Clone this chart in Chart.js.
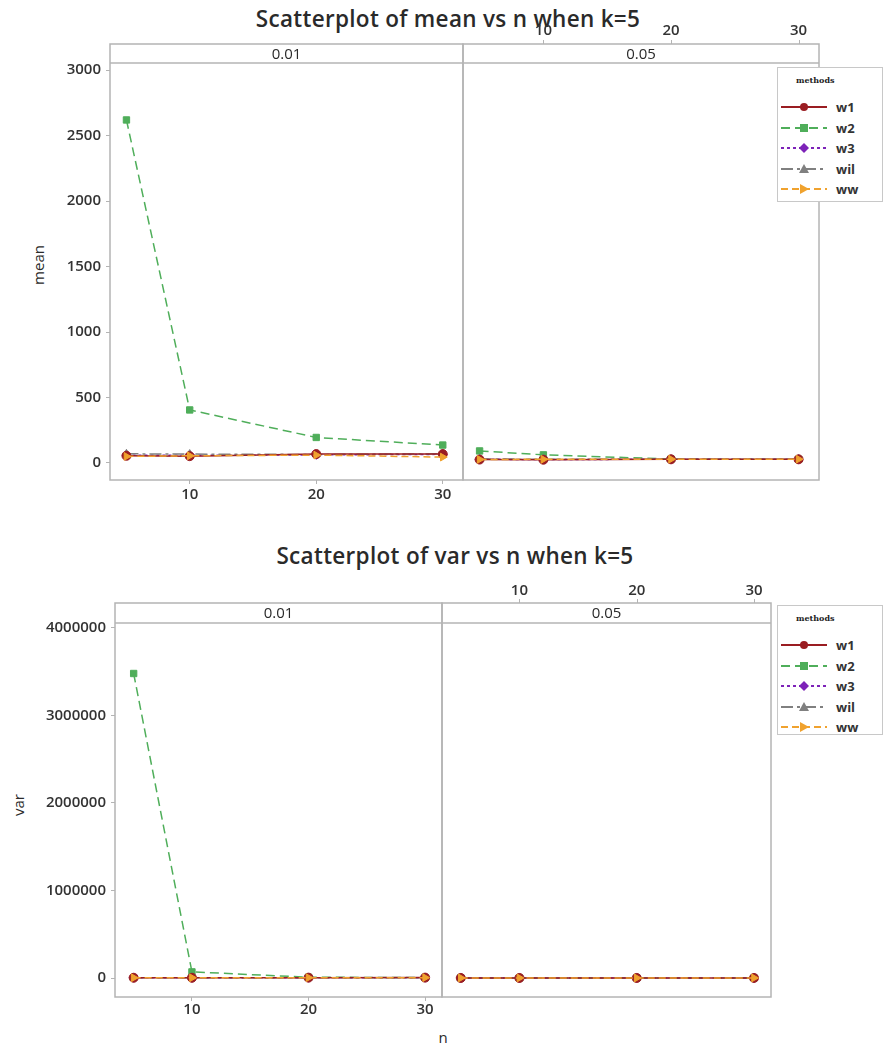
<!DOCTYPE html>
<html>
<head>
<meta charset="utf-8">
<script src="https://cdn.jsdelivr.net/npm/chart.js@4.4.1/dist/chart.umd.min.js"></script>
<style>
  body { margin: 0; background: #fff; width: 889px; height: 1047px; position: relative; overflow: hidden; font-family: "Open Sans", sans-serif; }
  canvas, .txt, .legend { position: absolute; }
  .title { font-weight: 600; font-size: 22.5px; letter-spacing: 0.3px; color: #2a2a2a; white-space: nowrap; transform: translateX(-50%); }
  .axtitle { font-size: 15px; color: #2a2a2a; white-space: nowrap; }
  .legend { border: 1px solid #c8c8c8; background: #fff; width: 106px; box-sizing: border-box; padding: 7px 0 0 2px; }
  .legend .lt { font-family: "DejaVu Serif", serif; font-weight: 700; font-size: 8px; color: #222; margin: 0 0 8px 16px; height: 14px; }
  .legend .row { height: 20.5px; display: flex; align-items: center; }
  .legend .row span { font-weight: 700; font-size: 13px; color: #333; margin-left: 8px; }
</style>
</head>
<body>
<div class="txt title" style="left:448px; top:3px;">Scatterplot of mean vs n when k=5</div>
<div class="txt axtitle" style="left:38px; top:265px; transform:translate(-50%,-50%) rotate(-90deg);">mean</div>
<canvas id="meanLeft" width="464" height="470" style="left:0; top:40px;"></canvas>
<canvas id="meanRight" width="358" height="480" style="left:462px; top:10px;"></canvas>
<div class="legend" id="legendTop" style="left:777px; top:67px; height:135px;"></div>

<div class="txt title" style="left:455px; top:540px;">Scatterplot of var vs n when k=5</div>
<div class="txt axtitle" style="left:18px; top:805px; transform:translate(-50%,-50%) rotate(-90deg);">var</div>
<div class="txt axtitle" style="left:443px; top:1037px; transform:translate(-50%,-50%);">n</div>
<canvas id="varLeft" width="443" height="447" style="left:0; top:580px;"></canvas>
<canvas id="varRight" width="331" height="447" style="left:441px; top:560px;"></canvas>
<div class="legend" id="legendBottom" style="left:777px; top:605px; height:130px;"></div>

<script>
// data
const nValues = [5, 10, 20, 30];
const methods = ["w1", "w2", "w3", "wil", "ww"];
const nTicks = [10, 20, 30];
const meanTicks = [0, 500, 1000, 1500, 2000, 2500, 3000];
const varTicks = [0, 1000000, 2000000, 3000000, 4000000];

// rows follow methods order: w1, w2, w3, wil, ww
const mean001 = [
  [55, 52, 68, 68],
  [2620, 405, 195, 137],
  [60, 58, 62, 66],
  [70, 68, 65, 70],
  [50, 55, 60, 45]
];
const mean005 = [
  [26, 25, 28, 28],
  [92, 62, 30, 28],
  [28, 27, 28, 29],
  [30, 29, 28, 28],
  [27, 28, 29, 29]
];
const var001 = [
  [3000, 2800, 4200, 4500],
  [3480000, 70000, 9000, 4500],
  [3200, 3000, 4000, 4300],
  [3500, 3100, 3900, 4400],
  [2900, 2700, 3800, 4200]
];
const var005 = [
  [700, 600, 700, 800],
  [1500, 900, 800, 800],
  [700, 650, 750, 800],
  [750, 650, 700, 850],
  [650, 600, 700, 780]
];

// series styles
const seriesColors = ["#9a1d22", "#4fae5a", "#7d22b8", "#808080", "#f0a22e"];
const seriesDash = [[], [9, 5], [3, 3], [12, 4, 3, 4], [7, 4]];
const seriesPoint = ["circle", "rect", "rectRot", "triangle", "triangle"];
const seriesRotation = [0, 0, 0, 0, 90];
const seriesOrder = [1, 4, 3, 2, 0];

const tickFont = { family: "Open Sans", size: 15, weight: "600" };
const frameColor = "#b4b4b4";

// draws the panel box, the strip with its label, and top tick marks
const panelFrame = {
  id: "panelFrame",
  afterDraw(chart, args, opts) {
    const ctx = chart.ctx, a = chart.chartArea, sh = opts.stripHeight;
    ctx.save();
    ctx.strokeStyle = frameColor;
    ctx.lineWidth = 1.5;
    ctx.strokeRect(a.left, a.top - sh, a.right - a.left, a.bottom - a.top + sh);
    ctx.beginPath();
    ctx.moveTo(a.left, a.top);
    ctx.lineTo(a.right, a.top);
    ctx.stroke();
    ctx.fillStyle = "#2a2a2a";
    ctx.font = '15px "Open Sans"';
    ctx.textAlign = "center";
    ctx.textBaseline = "middle";
    ctx.fillText(opts.label, (a.left + a.right) / 2, a.top - sh / 2 + 1);
    if (opts.topTicks) {
      const xs = chart.scales.x;
      ctx.lineWidth = 1;
      xs.ticks.forEach(t => {
        const px = Math.round(xs.getPixelForValue(t.value)) + 0.5;
        ctx.beginPath();
        ctx.moveTo(px, a.top - sh);
        ctx.lineTo(px, a.top - sh - 4);
        ctx.stroke();
      });
    }
    ctx.restore();
  }
};

function makeDatasets(rows) {
  return rows.map((vals, i) => ({
    label: methods[i],
    data: nValues.map((n, j) => ({ x: n, y: vals[j] })),
    showLine: true,
    order: seriesOrder[i],
    borderColor: seriesColors[i],
    backgroundColor: seriesColors[i],
    borderWidth: 1.5,
    borderDash: seriesDash[i],
    pointStyle: seriesPoint[i],
    rotation: seriesRotation[i],
    pointRadius: 4.5,
    pointBorderWidth: 1
  }));
}

function panelChart(id, rows, cfg) {
  const xAxis = {
    type: "linear",
    position: cfg.xTop ? "top" : "bottom",
    min: cfg.xMin, max: cfg.xMax,
    afterBuildTicks: s => { s.ticks = nTicks.map(v => ({ value: v })); },
    afterFit: s => { s.height = cfg.xHeight; s.paddingLeft = 0; s.paddingRight = 0; },
    ticks: { font: tickFont, color: "#333", padding: cfg.xPad, maxRotation: 0 },
    grid: { drawOnChartArea: false, drawTicks: !cfg.xTop, tickLength: 4, color: frameColor },
    border: { display: false }
  };
  const yAxis = {
    type: "linear",
    display: cfg.showY,
    min: cfg.yMin, max: cfg.yMax,
    afterBuildTicks: s => { s.ticks = cfg.yTicks.map(v => ({ value: v })); },
    afterFit: s => { s.width = cfg.yWidth; s.paddingTop = 0; s.paddingBottom = 0; },
    ticks: { font: tickFont, color: "#333", padding: 5, callback: v => String(v) },
    grid: { drawOnChartArea: false, tickLength: 4, color: frameColor },
    border: { display: false }
  };
  return new Chart(document.getElementById(id), {
    type: "scatter",
    data: { datasets: makeDatasets(rows) },
    options: {
      responsive: false,
      animation: false,
      devicePixelRatio: 1,
      layout: { padding: cfg.padding, autoPadding: false },
      scales: { x: xAxis, y: yAxis },
      plugins: {
        legend: { display: false },
        tooltip: { enabled: false },
        panelFrame: { label: cfg.label, stripHeight: cfg.strip, topTicks: cfg.xTop }
      }
    },
    plugins: [panelFrame]
  });
}

// mean vs n
panelChart("meanLeft", mean001, {
  label: "0.01", strip: 19, xTop: false, xMin: 3.7, xMax: 31.6, xHeight: 30, xPad: 2,
  showY: true, yMin: -130, yMax: 3055, yTicks: meanTicks, yWidth: 110,
  padding: { top: 23, right: 1 }
});
panelChart("meanRight", mean005, {
  label: "0.05", strip: 19, xTop: true, xMin: 3.7, xMax: 31.6, xHeight: 53, xPad: 23,
  showY: false, yMin: -130, yMax: 3055, yTicks: meanTicks, yWidth: 0,
  padding: { left: 1, right: 1, bottom: 10 }
});

// var vs n
panelChart("varLeft", var001, {
  label: "0.01", strip: 20, xTop: false, xMin: 3.4, xMax: 31.45, xHeight: 30, xPad: 0,
  showY: true, yMin: -217000, yMax: 4057000, yTicks: varTicks, yWidth: 115,
  padding: { top: 43, right: 1 }
});
panelChart("varRight", var005, {
  label: "0.05", strip: 20, xTop: true, xMin: 3.4, xMax: 31.45, xHeight: 63, xPad: 23,
  showY: false, yMin: -217000, yMax: 4057000, yTicks: varTicks, yWidth: 0,
  padding: { left: 1, right: 1, bottom: 10 }
});

// legends built from the same series styles
function markerSvg(i) {
  const c = seriesColors[i];
  if (seriesPoint[i] === "circle") return `<circle cx="24" cy="7" r="4" fill="${c}"/>`;
  if (seriesPoint[i] === "rect") return `<rect x="20" y="3" width="8" height="8" fill="${c}"/>`;
  if (seriesPoint[i] === "rectRot") return `<polygon points="24,2 29,7 24,12 19,7" fill="${c}"/>`;
  if (seriesRotation[i] === 90) return `<polygon points="20,2 29,7 20,12" fill="${c}"/>`;
  return `<polygon points="24,2 29,11 19,11" fill="${c}"/>`;
}
function buildLegend(id) {
  let html = '<div class="lt">methods</div>';
  methods.forEach((m, i) => {
    const dash = seriesDash[i].length ? `stroke-dasharray="${seriesDash[i].join(" ")}"` : "";
    html += `<div class="row"><svg width="48" height="14"><line x1="1" y1="7" x2="47" y2="7" stroke="${seriesColors[i]}" stroke-width="2" ${dash}/>${markerSvg(i)}</svg><span>${m}</span></div>`;
  });
  document.getElementById(id).innerHTML = html;
}
buildLegend("legendTop");
buildLegend("legendBottom");
</script>
</body>
</html>
